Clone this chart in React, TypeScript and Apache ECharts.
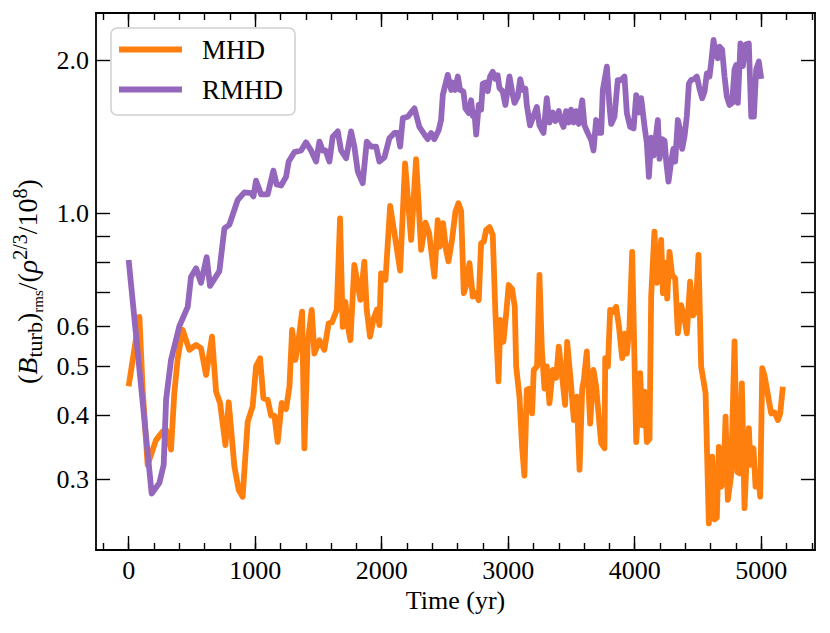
import React, { useEffect, useRef } from "react";
import * as echarts from "echarts";

// ---- data ----
const mhdTime = [
  0, 85, 111, 150, 216, 269, 296, 335, 361, 388, 427, 480, 533, 572, 612, 659, 691, 723, 765, 791,
  836, 870, 901, 941, 980, 1007, 1039, 1065, 1099, 1126, 1152, 1178, 1210, 1244, 1271, 1292, 1318,
  1336, 1371, 1389, 1415, 1447, 1468, 1508, 1547, 1581, 1607, 1645, 1671, 1692, 1713, 1734, 1753,
  1784, 1832, 1863, 1882, 1908, 1937, 1963, 1982, 1995, 2030, 2067, 2101, 2146, 2185, 2233, 2272,
  2312, 2346, 2375, 2417, 2443, 2460, 2485, 2510, 2528, 2556, 2583, 2607, 2628, 2649, 2667, 2694,
  2720, 2741, 2767, 2786, 2807, 2826, 2852, 2878, 2899, 2923, 2939, 2962, 2983, 3004, 3031, 3052,
  3063, 3089, 3110, 3128, 3147, 3168, 3189, 3202, 3228, 3247, 3266, 3287, 3305, 3326, 3352, 3379,
  3400, 3426, 3450, 3466, 3492, 3519, 3542, 3564, 3585, 3598, 3621, 3648, 3674, 3695, 3735, 3761,
  3767, 3788, 3806, 3827, 3853, 3875, 3901, 3919, 3938, 3959, 3980, 4012, 4043, 4059, 4078, 4096,
  4117, 4130, 4156, 4175, 4191, 4209, 4223, 4241, 4257, 4275, 4296, 4320, 4341, 4367, 4394, 4412,
  4438, 4460, 4481, 4504, 4525, 4560, 4586, 4612, 4631, 4649, 4665, 4683, 4702, 4718, 4736, 4762,
  4789, 4810, 4828, 4847, 4868, 4881, 4902, 4915, 4939, 4955, 4973, 4992, 5008, 5026, 5052, 5079,
  5105, 5132, 5150, 5171,
];
const mhdValue = [
  0.457, 0.626, 0.45, 0.32, 0.358, 0.372, 0.375, 0.343, 0.443, 0.519, 0.59, 0.539, 0.551, 0.543,
  0.481, 0.572, 0.446, 0.423, 0.35, 0.425, 0.3175, 0.2855, 0.277, 0.389, 0.417, 0.5, 0.519, 0.433,
  0.43, 0.4, 0.4, 0.355, 0.424, 0.412, 0.456, 0.59, 0.515, 0.547, 0.641, 0.345, 0.555, 0.646, 0.53,
  0.563, 0.539, 0.608, 0.61, 0.646, 0.978, 0.598, 0.67, 0.598, 0.563, 0.792, 0.676, 0.804, 0.646,
  0.572, 0.622, 0.647, 0.603, 0.762, 0.74, 1.035, 0.914, 0.772, 1.255, 0.887, 1.279, 0.848, 0.959,
  0.914, 0.751, 0.97, 0.86, 0.957, 0.845, 0.805, 0.887, 1.008, 1.047, 1.01, 0.697, 0.72, 0.798,
  0.686, 0.697, 0.675, 0.874, 0.88, 0.928, 0.94, 0.907, 0.636, 0.467, 0.617, 0.559, 0.63, 0.723,
  0.71, 0.655, 0.5, 0.436, 0.347, 0.305, 0.45, 0.452, 0.404, 0.492, 0.5, 0.757, 0.539, 0.452, 0.5,
  0.423, 0.492, 0.475, 0.547, 0.478, 0.42, 0.559, 0.475, 0.392, 0.436, 0.313, 0.452, 0.47, 0.535,
  0.386, 0.492, 0.456, 0.353, 0.345, 0.519, 0.5, 0.646, 0.64, 0.655, 0.6, 0.519, 0.58, 0.53, 0.6,
  0.84, 0.355, 0.485, 0.383, 0.446, 0.355, 0.36, 0.686, 0.921, 0.73, 0.74, 0.887, 0.697, 0.8, 0.68,
  0.84, 0.755, 0.745, 0.581, 0.66, 0.62, 0.581, 0.734, 0.63, 0.64, 0.829, 0.5, 0.443, 0.2455,
  0.332, 0.25, 0.252, 0.347, 0.29, 0.295, 0.398, 0.273, 0.305, 0.56, 0.31, 0.308, 0.463, 0.263,
  0.315, 0.378, 0.32, 0.345, 0.29, 0.31, 0.277, 0.496, 0.48, 0.44, 0.404, 0.406, 0.392, 0.404,
  0.456,
];

const rmhdTime = [
  0, 182, 243, 277, 296, 335, 401, 467, 493, 533, 572, 617, 643, 717, 757, 796, 862, 915, 968, 986,
  1007, 1047, 1099, 1144, 1170, 1205, 1244, 1265, 1310, 1363, 1402, 1442, 1482, 1508, 1534, 1556,
  1587, 1613, 1653, 1679, 1719, 1758, 1784, 1811, 1850, 1882, 1917, 1956, 1982, 2022, 2061, 2101,
  2127, 2146, 2167, 2206, 2259, 2298, 2338, 2364, 2391, 2416, 2451, 2470, 2483, 2522, 2549, 2562,
  2580, 2602, 2620, 2646, 2662, 2688, 2707, 2720, 2733, 2747, 2767, 2786, 2799, 2825, 2838, 2857,
  2878, 2899, 2917, 2931, 2957, 2978, 3010, 3031, 3050, 3076, 3095, 3115, 3136, 3147, 3173, 3200,
  3226, 3247, 3279, 3305, 3326, 3352, 3373, 3400, 3418, 3437, 3458, 3479, 3497, 3518, 3537, 3558,
  3585, 3603, 3629, 3656, 3674, 3695, 3716, 3735, 3748, 3780, 3801, 3814, 3840, 3866, 3893, 3919,
  3938, 3964, 3991, 4012, 4033, 4051, 4078, 4096, 4112, 4131, 4149, 4165, 4183, 4196, 4217, 4236,
  4249, 4267, 4288, 4306, 4320, 4341, 4359, 4375, 4394, 4412, 4428, 4446, 4473, 4491, 4512, 4533,
  4552, 4570, 4591, 4604, 4623, 4639, 4657, 4670, 4691, 4710, 4728, 4749, 4770, 4789, 4802, 4815,
  4836, 4855, 4876, 4902, 4921, 4942, 4960, 4981, 5000,
];
const rmhdValue = [
  0.81, 0.281, 0.295, 0.32, 0.43, 0.515, 0.6, 0.655, 0.75, 0.78, 0.73, 0.82, 0.72, 0.77, 0.935, 0.95,
  1.063, 1.1, 1.096, 1.08, 1.16, 1.09, 1.09, 1.214, 1.14, 1.135, 1.18, 1.265, 1.32, 1.33, 1.38, 1.33,
  1.265, 1.385, 1.33, 1.33, 1.265, 1.416, 1.45, 1.33, 1.284, 1.45, 1.354, 1.21, 1.147, 1.385, 1.354,
  1.354, 1.265, 1.29, 1.406, 1.44, 1.44, 1.354, 1.54, 1.55, 1.61, 1.48, 1.43, 1.4, 1.44, 1.4, 1.46,
  1.53, 1.71, 1.874, 1.75, 1.81, 1.75, 1.86, 1.75, 1.737, 1.61, 1.575, 1.67, 1.555, 1.58, 1.43,
  1.635, 1.6, 1.8, 1.81, 1.74, 1.86, 1.9, 1.84, 1.87, 1.765, 1.737, 1.635, 1.86, 1.737, 1.65, 1.7,
  1.837, 1.75, 1.76, 1.635, 1.49, 1.555, 1.62, 1.49, 1.44, 1.686, 1.51, 1.58, 1.52, 1.59, 1.52,
  1.48, 1.59, 1.51, 1.6, 1.51, 1.59, 1.5, 1.67, 1.49, 1.44, 1.395, 1.33, 1.527, 1.44, 1.44, 1.75,
  1.945, 1.62, 1.5, 1.55, 1.83, 1.83, 1.86, 1.575, 1.48, 1.47, 1.71, 1.58, 1.686, 1.48, 1.375,
  1.18, 1.41, 1.3, 1.4, 1.527, 1.28, 1.4, 1.39, 1.265, 1.155, 1.265, 1.34, 1.265, 1.527, 1.46, 1.34,
  1.42, 1.555, 1.8, 1.83, 1.84, 1.86, 1.76, 1.686, 1.737, 1.886, 1.86, 1.975, 2.195, 2.06, 2.02,
  2.13, 2.1, 1.86, 1.7, 1.635, 1.65, 1.92, 1.96, 1.65, 2.16, 1.95, 2.15, 2.16, 1.55, 1.55, 1.92,
  1.99, 1.84,
];

const seriesNames = ["MHD", "RMHD"];
const seriesColors = ["#ff7f0e", "#9467bd"];

const xMajorTicks = [0, 1000, 2000, 3000, 4000, 5000];
const xMinorTicks = [
  -200, 0, 200, 400, 600, 800, 1000, 1200, 1400, 1600, 1800, 2000, 2200, 2400, 2600, 2800, 3000,
  3200, 3400, 3600, 3800, 4000, 4200, 4400, 4600, 4800, 5000, 5200, 5400,
];
const yTickValues = [0.3, 0.4, 0.5, 0.6, 0.7, 0.8, 0.9, 1.0, 2.0];
const yLabelValues = [0.3, 0.4, 0.5, 0.6, 1.0, 2.0];

const X_MIN = -258;
const X_MAX = 5425;
const Y_MIN = 0.2176;
const Y_MAX = 2.48;

const FONT = "Liberation Serif";

const lg = (v: number) => Math.log10(v);

export default function App() {
  const ref = useRef<HTMLDivElement>(null);

  useEffect(() => {
    if (!ref.current) return;
    const chart = echarts.init(ref.current, undefined, { renderer: "svg" });

    const frameLine = { show: true, onZero: false, lineStyle: { color: "#000", width: 1.8 } };
    const noLine = { show: false, onZero: false };
    const tickStyle = { color: "#000", width: 1.4 };

    const xBase = {
      type: "value",
      min: X_MIN,
      max: X_MAX,
      splitLine: { show: false },
      axisLine: frameLine,
    };
    const yBase = {
      type: "value",
      min: lg(Y_MIN),
      max: lg(Y_MAX),
      splitLine: { show: false },
      axisLine: frameLine,
    };

    const mhdData = mhdTime.map((t, i) => [t, lg(mhdValue[i])]);
    const rmhdData = rmhdTime.map((t, i) => [t, lg(rmhdValue[i])]);

    const option: any = {
      animation: false,
      backgroundColor: "#fff",
      grid: {
        left: 96,
        right: 15,
        top: 13,
        bottom: 83,
        containLabel: false,
        outerBoundsMode: "none",
      },
      legend: {
        orient: "vertical",
        left: 111,
        top: 28,
        icon: "rect",
        itemWidth: 63,
        itemHeight: 6,
        itemGap: 13,
        padding: [8, 12, 12, 8],
        backgroundColor: "rgba(255,255,255,0.85)",
        borderColor: "#cfcfcf",
        borderWidth: 1.5,
        borderRadius: 6,
        textStyle: {
          fontFamily: FONT,
          fontSize: 27,
          color: "#000",
          padding: [0, 0, 0, 15],
        },
        data: seriesNames,
      },
      xAxis: [
        {
          ...xBase,
          position: "bottom",
          axisTick: { show: true, inside: true, length: 14, lineStyle: tickStyle, customValues: xMajorTicks },
          axisLabel: {
            show: true,
            customValues: xMajorTicks,
            formatter: (v: number) => String(Math.round(v)),
            fontFamily: FONT,
            fontSize: 26,
            color: "#000",
            margin: 7,
          },
          name: "Time (yr)",
          nameLocation: "middle",
          nameGap: 37,
          nameTextStyle: { fontFamily: FONT, fontSize: 26, color: "#000" },
        },
        {
          ...xBase,
          position: "bottom",
          axisLine: noLine,
          axisTick: { show: true, inside: true, length: 7, lineStyle: tickStyle, customValues: xMinorTicks },
          axisLabel: { show: false },
        },
        {
          ...xBase,
          position: "top",
          axisTick: { show: true, inside: true, length: 14, lineStyle: tickStyle, customValues: xMajorTicks },
          axisLabel: { show: false },
        },
        {
          ...xBase,
          position: "top",
          axisLine: noLine,
          axisTick: { show: true, inside: true, length: 7, lineStyle: tickStyle, customValues: xMinorTicks },
          axisLabel: { show: false },
        },
      ],
      yAxis: [
        {
          ...yBase,
          position: "left",
          axisTick: {
            show: true,
            inside: true,
            length: 14,
            lineStyle: tickStyle,
            customValues: yTickValues.map(lg),
          },
          axisLabel: {
            show: true,
            customValues: yLabelValues.map(lg),
            formatter: (v: number) => Math.pow(10, v).toFixed(1),
            fontFamily: FONT,
            fontSize: 26,
            color: "#000",
            margin: 7,
          },
          name:
            "{p|(}{i|B}{sub|turb}{p|)}{sub2|rms}{p|/(}{i|ρ}{sup|2/3}{p|/10}{sup|8}{p|)}",
          nameLocation: "middle",
          nameRotate: 90,
          nameGap: 46,
          nameTextStyle: {
            fontFamily: FONT,
            fontSize: 28,
            color: "#000",
            rich: {
              p: { fontFamily: FONT, fontSize: 28, color: "#000", lineHeight: 36, verticalAlign: "middle" },
              i: {
                fontFamily: FONT,
                fontSize: 28,
                fontStyle: "italic",
                color: "#000",
                lineHeight: 36,
                verticalAlign: "middle",
              },
              sub: { fontFamily: FONT, fontSize: 22, color: "#000", lineHeight: 26, verticalAlign: "bottom" },
              sub2: { fontFamily: FONT, fontSize: 15, color: "#000", lineHeight: 25, verticalAlign: "bottom" },
              sup: { fontFamily: FONT, fontSize: 20, color: "#000", lineHeight: 21, verticalAlign: "top" },
            },
          },
        },
        {
          ...yBase,
          position: "right",
          axisTick: {
            show: true,
            inside: true,
            length: 14,
            lineStyle: tickStyle,
            customValues: yTickValues.map(lg),
          },
          axisLabel: { show: false },
        },
      ],
      series: [
        {
          name: seriesNames[0],
          type: "line",
          xAxisIndex: 0,
          yAxisIndex: 0,
          data: mhdData,
          showSymbol: false,
          symbol: "none",
          color: seriesColors[0],
          lineStyle: { color: seriesColors[0], width: 5.8, join: "round" },
          itemStyle: { color: seriesColors[0] },
        },
        {
          name: seriesNames[1],
          type: "line",
          xAxisIndex: 0,
          yAxisIndex: 0,
          data: rmhdData,
          showSymbol: false,
          symbol: "none",
          color: seriesColors[1],
          lineStyle: { color: seriesColors[1], width: 5.8, join: "round" },
          itemStyle: { color: seriesColors[1] },
        },
      ],
    };

    chart.setOption(option);
    return () => chart.dispose();
  }, []);

  return (
    <div
      ref={ref}
      style={{ position: "absolute", left: 0, top: 0, width: 830, height: 633, background: "#fff" }}
    />
  );
}
